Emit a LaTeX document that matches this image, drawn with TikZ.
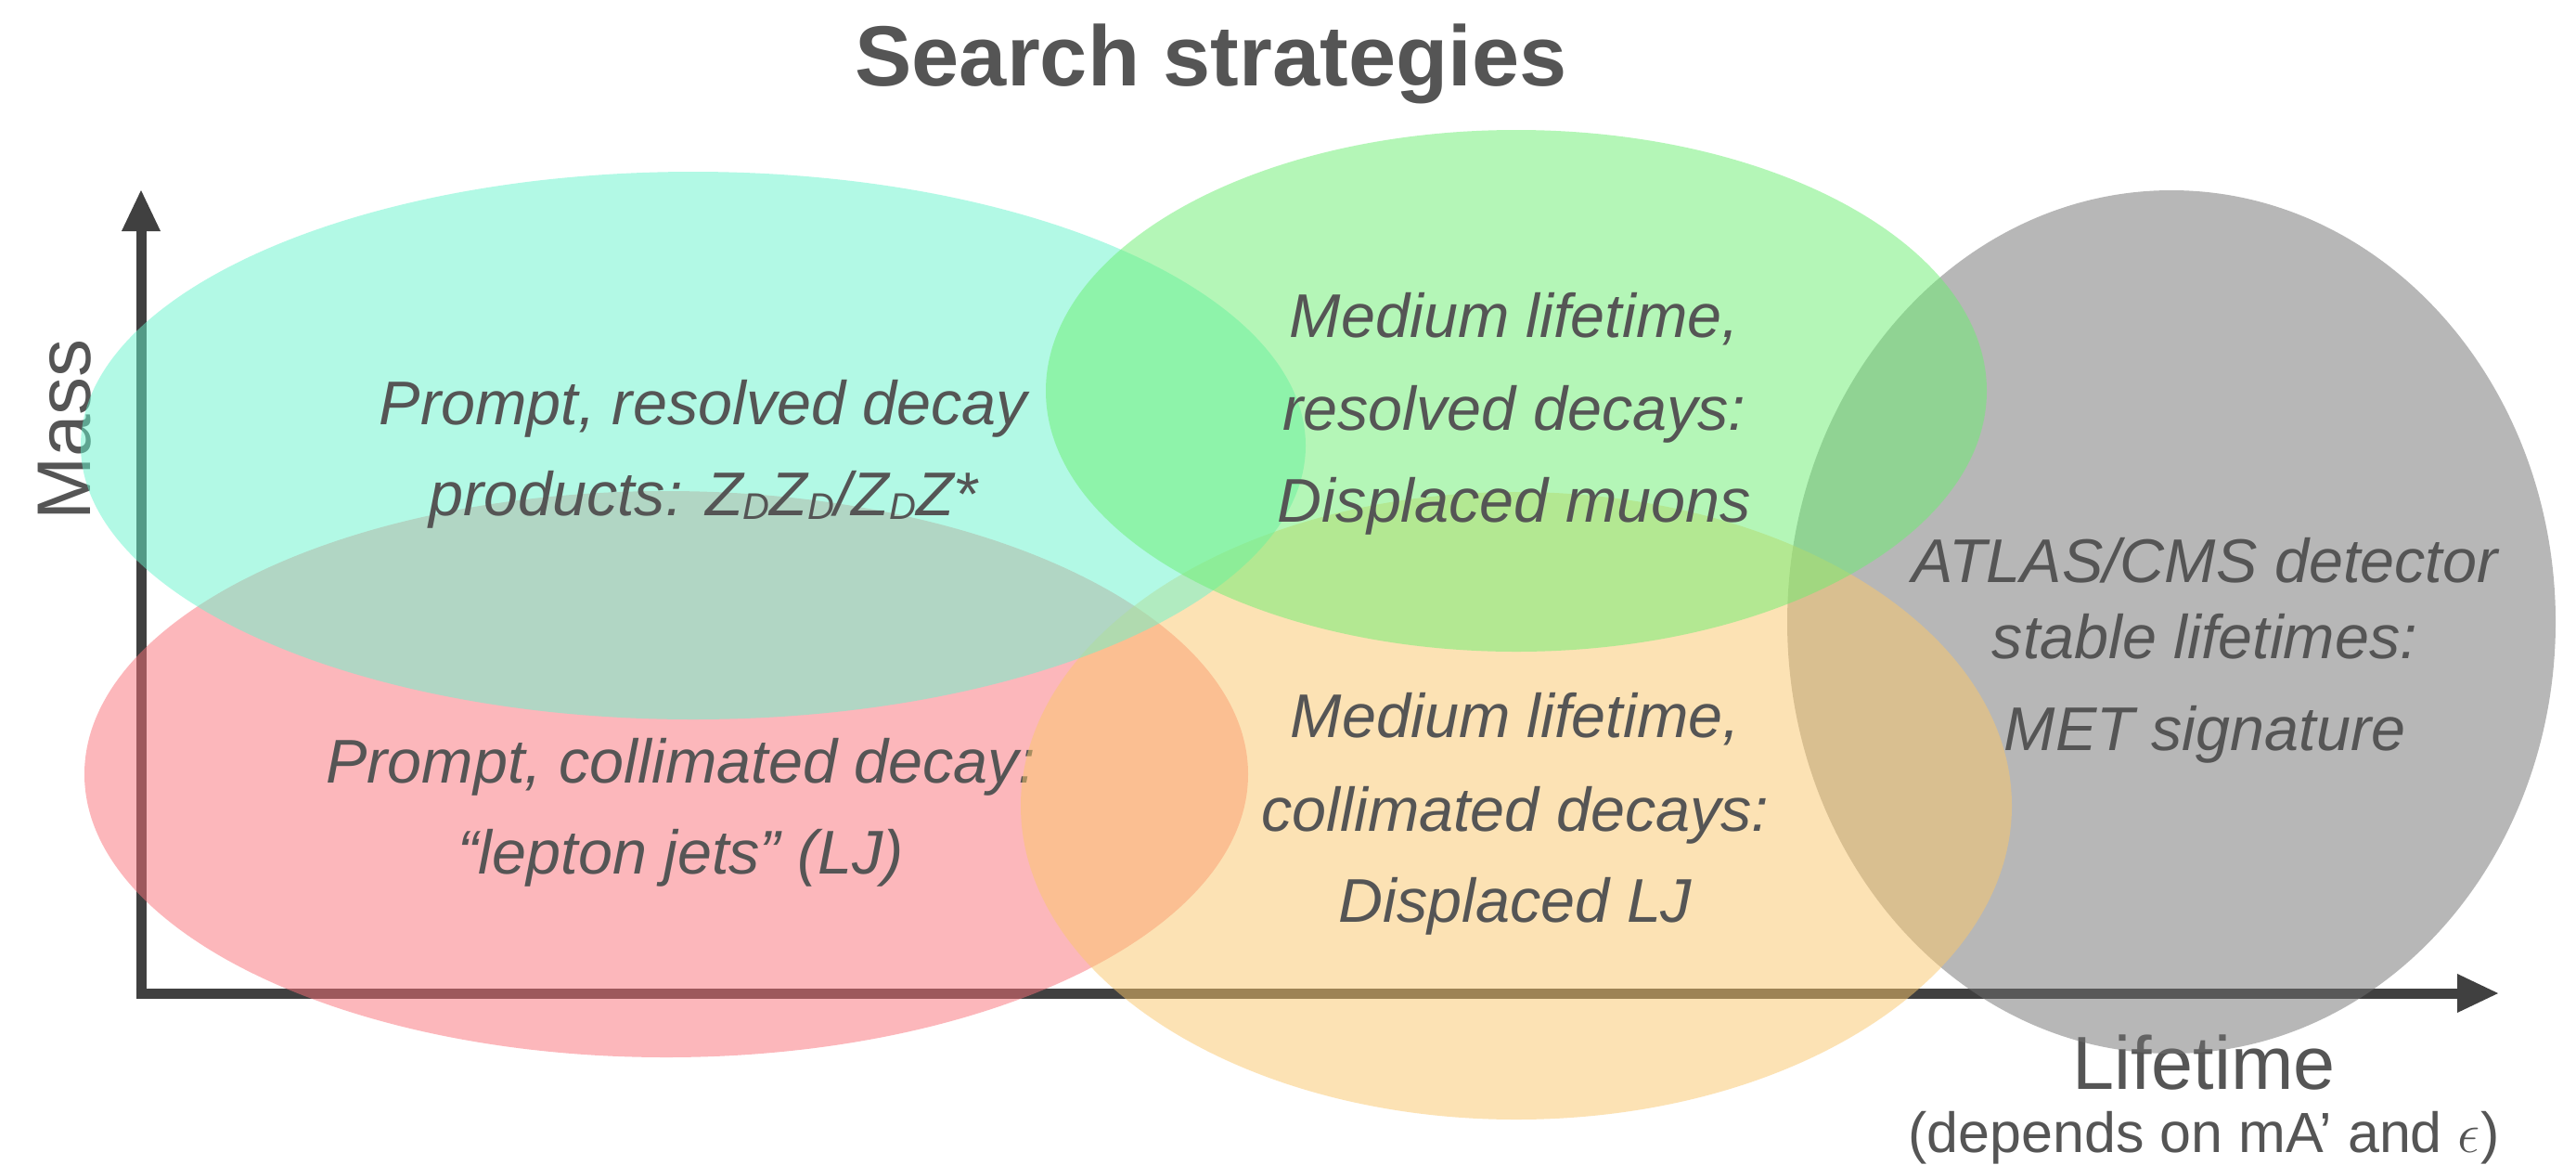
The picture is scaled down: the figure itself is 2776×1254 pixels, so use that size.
\RequirePackage{fix-cm}
\documentclass[tikz,border=0pt]{standalone}
\usepackage{fontspec}
\newfontfamily\lsans{Liberation Sans}
\usetikzlibrary{arrows.meta}
\definecolor{txt}{HTML}{555555}
\definecolor{axiscol}{HTML}{404040}
\definecolor{cyanE}{RGB}{103,245,205}
\definecolor{pinkE}{RGB}{251,113,121}
\definecolor{greenE}{RGB}{107,239,113}
\definecolor{orangeE}{RGB}{251,199,107}
\definecolor{grayE}{RGB}{113,113,113}
\newcommand\subD{\raisebox{-0.06em}{\fontsize{40}{40}\selectfont D}}
\tikzset{
  lbl/.style={text=txt, inner sep=0pt, anchor=base, font=\lsans\itshape\fontsize{66.5}{80}\selectfont},
  plainlbl/.style={text=txt, inner sep=0pt, anchor=base},
  blob/.style={fill opacity=0.5},
  axisline/.style={draw=axiscol, line width=11pt, -{Triangle[length=44pt,width=42pt,line width=0pt]}},
}
\begin{document}
\begin{tikzpicture}[x=1pt,y=-1pt]
\fill[white] (0,0) rectangle (2776,1254);
\useasboundingbox (0,0) rectangle (2776,1254);

% axes
\coordinate (ystart) at (152,1075.5);
\coordinate (ytop) at (152,205);
\coordinate (xstart) at (146.5,1070);
\coordinate (xend) at (2692,1070);
\draw[axisline] (ystart) -- (ytop);
\draw[axisline] (xstart) -- (xend);

% axis labels and title
\node[plainlbl, font=\lsans\bfseries\fontsize{92}{100}\selectfont] (title) at (1305,92) {Search strategies};
\node[plainlbl, font=\lsans\fontsize{82}{90}\selectfont, rotate=90] (mass) at (97,463) {Mass};
\node[plainlbl, font=\lsans\fontsize{81}{90}\selectfont] (life) at (2375,1173) {Lifetime};
\node[plainlbl, font=\lsans\fontsize{61}{70}\selectfont] (dep) at (2375,1241) {(depends on mA’ and $\epsilon$)};

% gray
\fill[grayE, blob] (2340,670) ellipse [x radius=414, y radius=465];
\node[lbl] (grayA) at (2376,627) {ATLAS/CMS detector};
\node[lbl] (grayB) at (2376,709) {stable lifetimes:};
\node[lbl] (grayC) at (2376,808) {MET signature};

% pink
\fill[pinkE, blob] (718,834) ellipse [x radius=627, y radius=305];
\node[lbl] (pinkA) at (734,843) {Prompt, collimated decay:};
\node[lbl] (pinkB) at (734,941) {“lepton jets” (LJ)};

% orange
\fill[orangeE, blob] (1634,868) ellipse [x radius=534, y radius=338];
\node[lbl] (orangeA) at (1633,794) {Medium lifetime,};
\node[lbl] (orangeB) at (1633,895) {collimated decays:};
\node[lbl] (orangeC) at (1633,993) {Displaced LJ};

% cyan
\fill[cyanE, blob] (747,480) ellipse [x radius=660, y radius=295];
\node[lbl] (cyanA) at (758,457) {Prompt, resolved decay};
\node[lbl] (cyanB) at (758,555) {products: Z\subD Z\subD/Z\subD Z*};

% green
\fill[greenE, blob] (1634,421) ellipse [x radius=507, y radius=281];
\node[lbl] (greenA) at (1632,363) {Medium lifetime,};
\node[lbl] (greenB) at (1632,463) {resolved decays:};
\node[lbl] (greenC) at (1632,562) {Displaced muons};
\end{tikzpicture}
\end{document}
